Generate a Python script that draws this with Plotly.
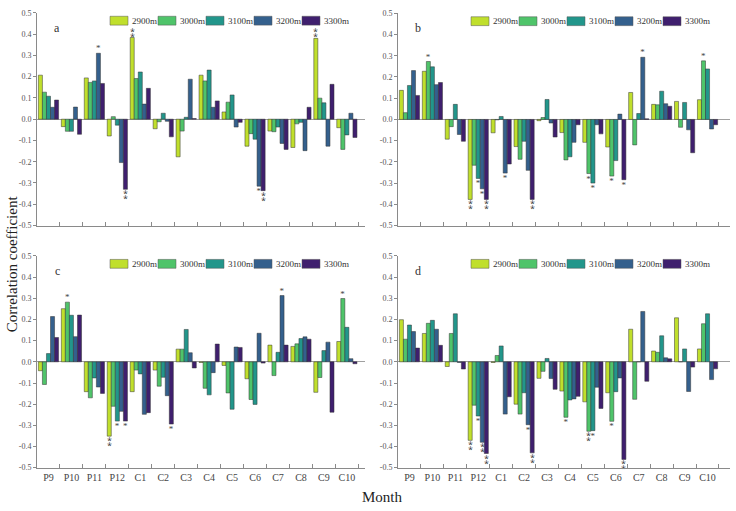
import plotly.graph_objects as go

categories = ["P9", "P10", "P11", "P12", "C1", "C2", "C3", "C4", "C5", "C6", "C7", "C8", "C9", "C10"]
series_names = ["2900m", "3000m", "3100m", "3200m", "3300m"]
colors = ["#c0df2c", "#4fc46a", "#22968b", "#34608d", "#3f1f6e"]
y_tickvals = [0.5, 0.4, 0.3, 0.2, 0.1, 0.0, -0.1, -0.2, -0.3, -0.4, -0.5]
y_ticktext = ["0.5", "0.4", "0.3", "0.2", "0.1", "0.0", "-0.1", "-0.2", "-0.3", "-0.4", "-0.5"]

# panel a  (rows: 2900m, 3000m, 3100m, 3200m, 3300m)
panel_a = [
    [0.207, -0.035, 0.194, -0.079, 0.384, -0.045, -0.177, 0.207, 0.034, -0.127, -0.056, -0.133, 0.380, -0.040],
    [0.127, -0.057, 0.173, 0.012, 0.191, -0.012, -0.056, 0.180, 0.080, -0.068, -0.059, -0.022, 0.099, -0.142],
    [0.108, -0.057, 0.180, -0.028, 0.222, 0.028, 0.009, 0.231, 0.114, -0.094, -0.037, -0.015, 0.077, -0.074],
    [0.056, 0.057, 0.310, -0.204, 0.071, -0.010, 0.188, 0.056, -0.037, -0.315, -0.114, -0.148, -0.127, 0.028],
    [0.090, -0.071, 0.168, -0.330, 0.145, -0.083, 0.003, 0.086, -0.015, -0.336, -0.142, 0.056, 0.164, -0.086],
]
panel_b = [
    [0.137, 0.227, -0.093, -0.377, -0.063, -0.128, -0.006, -0.062, -0.108, -0.130, 0.127, 0.071, 0.085, 0.093],
    [0.032, 0.273, -0.034, -0.216, -0.002, -0.188, 0.009, -0.191, -0.255, -0.267, -0.120, 0.069, -0.037, 0.276],
    [0.160, 0.248, 0.071, -0.278, 0.014, -0.103, 0.094, -0.176, -0.300, -0.194, 0.028, 0.133, 0.080, 0.238],
    [0.230, 0.164, -0.071, -0.327, -0.253, -0.240, -0.017, -0.108, -0.025, 0.025, 0.293, 0.074, -0.049, -0.045],
    [0.113, 0.174, -0.103, -0.377, -0.210, -0.377, -0.083, -0.025, -0.068, -0.284, 0.003, 0.062, -0.157, -0.025],
]
panel_c = [
    [-0.042, 0.251, -0.141, -0.351, -0.141, -0.039, 0.060, -0.003, -0.017, -0.080, 0.079, 0.073, -0.144, 0.096],
    [-0.107, 0.282, -0.170, -0.210, -0.039, -0.115, 0.060, -0.125, -0.147, -0.178, -0.065, 0.085, -0.074, 0.299],
    [0.039, 0.220, -0.076, -0.280, -0.057, -0.073, 0.153, -0.156, -0.224, -0.201, 0.045, 0.110, 0.053, 0.163],
    [0.214, 0.119, -0.119, -0.234, -0.248, -0.160, 0.043, -0.051, 0.070, 0.135, 0.313, 0.118, 0.093, 0.015],
    [0.115, 0.221, -0.149, -0.280, -0.240, -0.294, -0.029, 0.084, 0.068, -0.006, 0.079, 0.107, -0.238, -0.009],
]
panel_d = [
    [0.199, 0.134, -0.022, -0.371, -0.003, -0.200, -0.078, -0.138, -0.189, -0.146, 0.154, 0.051, 0.208, 0.061],
    [0.107, 0.182, 0.134, -0.205, 0.030, -0.247, -0.045, -0.262, -0.328, -0.281, -0.177, 0.045, 0.000, 0.180],
    [0.174, 0.196, 0.227, -0.256, 0.075, -0.146, 0.016, -0.180, -0.325, -0.141, 0.000, 0.123, 0.061, 0.227],
    [0.143, 0.154, -0.003, -0.380, -0.247, -0.297, -0.079, -0.175, -0.120, -0.076, 0.238, 0.019, -0.140, -0.084],
    [0.065, 0.078, -0.034, -0.433, -0.165, -0.430, -0.130, -0.163, -0.220, -0.461, -0.092, 0.014, -0.025, -0.033],
]

# significance marks: (month, series, mark)
stars_a = [("P11", "3200m", "*"), ("P12", "3300m", "**"), ("C1", "2900m", "**"),
           ("C6", "3200m", "*"), ("C6", "3300m", "**"), ("C9", "2900m", "**")]
stars_b = [("P10", "3000m", "*"), ("P12", "2900m", "**"), ("P12", "3100m", "*"), ("P12", "3200m", "*"),
           ("P12", "3300m", "**"), ("C1", "3200m", "*"), ("C2", "3300m", "**"), ("C5", "3000m", "*"),
           ("C5", "3100m", "*"), ("C6", "3000m", "*"), ("C6", "3300m", "*"), ("C7", "3200m", "*"),
           ("C10", "3000m", "*")]
stars_c = [("P10", "3000m", "*"), ("P12", "2900m", "**"), ("P12", "3100m", "*"), ("P12", "3300m", "*"),
           ("C2", "3300m", "*"), ("C7", "3200m", "*"), ("C10", "3000m", "*")]
stars_d = [("P12", "2900m", "**"), ("P12", "3100m", "*"), ("P12", "3200m", "**"), ("P12", "3300m", "**"),
           ("C2", "3200m", "*"), ("C2", "3300m", "**"), ("C4", "3000m", "*"), ("C5", "3000m", "**"),
           ("C5", "3100m", "*"), ("C6", "3000m", "*"), ("C6", "3300m", "**")]

panel_labels = ["a", "b", "c", "d"]

W, H = 736, 511
FONT = "Liberation Serif"


def fx(p):
    return p / W


def fy(p):
    return 1 - p / H


# pixel boxes (left, right, top, bottom) and x-range end for each panel
boxes = [(37, 365, 9, 225.5), (398, 730, 9.5, 225.5), (37, 365, 256.5, 472), (398, 730, 256.5, 472)]
xr_end = [13.79, 13.98, 13.79, 13.98]
panels = [panel_a, panel_b, panel_c, panel_d]
stars = [stars_a, stars_b, stars_c, stars_d]

fig = go.Figure()
shapes = []
annotations = []

for k in range(4):
    sfx = "" if k == 0 else str(k + 1)
    marks = {(m, s): t for (m, s, t) in stars[k]}
    for i, name in enumerate(series_names):
        txt = []
        for c in categories:
            t = marks.get((c, name), "")
            txt.append("\u2051" if t == "**" else t)
        fig.add_trace(go.Bar(
            x=categories, y=panels[k][i], name=name,
            marker=dict(color=colors[i], line=dict(color="#333333", width=0.5)),
            text=txt, textposition="outside", textangle=0, constraintext="none",
            textfont=dict(family=FONT, size=9, color="#444444"),
            cliponaxis=False, showlegend=False,
            xaxis="x" + sfx, yaxis="y" + sfx,
        ))
    L, R, T, B = boxes[k]
    bottom_row = k >= 2
    fig.update_layout(**{
        "xaxis" + sfx: dict(
            domain=[fx(L), fx(R)], anchor="y" + sfx, type="category",
            range=[-0.5, xr_end[k]], showline=True, linecolor="#8a8a8a", linewidth=1,
            ticks="inside", tickson="boundaries", ticklen=4, tickcolor="#8a8a8a",
            showticklabels=bottom_row, tickangle=0,
            tickfont=dict(family=FONT, size=10, color="#444444"),
            showgrid=False, zeroline=False,
        ),
        "yaxis" + sfx: dict(
            domain=[fy(B), fy(T)], anchor="x" + sfx, range=[-0.5, 0.5],
            tickvals=y_tickvals, ticktext=y_ticktext,
            showline=True, linecolor="#8a8a8a", linewidth=1,
            ticks="outside", ticklen=3, tickcolor="#8a8a8a",
            tickfont=dict(family=FONT, size=8, color="#555555"),
            showgrid=False, zeroline=True, zerolinecolor="#a0a0a0", zerolinewidth=1,
        ),
    })
    # panel label
    annotations.append(dict(text=panel_labels[k], x=fx(L + 20), y=fy(T + 15), xref="paper", yref="paper",
                            showarrow=False, font=dict(family=FONT, size=12, color="#333333"),
                            xanchor="center", yanchor="middle"))
    # legend inside panel
    for i, name in enumerate(series_names):
        x0 = L + 73 + 48 * i
        yc = T + 8
        shapes.append(dict(type="rect", xref="paper", yref="paper",
                           x0=fx(x0), x1=fx(x0 + 18), y0=fy(yc + 4.5), y1=fy(yc - 4.5),
                           fillcolor=colors[i], line=dict(color="#555555", width=0.5)))
        annotations.append(dict(text=name, x=fx(x0 + 19.5), y=fy(yc), xref="paper", yref="paper",
                                showarrow=False, xanchor="left", yanchor="middle",
                                font=dict(family=FONT, size=9, color="#333333")))

annotations.append(dict(text="Correlation coefficient", x=fx(12), y=fy(265), xref="paper", yref="paper",
                        showarrow=False, textangle=-90, xanchor="center", yanchor="middle",
                        font=dict(family=FONT, size=15, color="#222222")))
annotations.append(dict(text="Month", x=fx(382), y=fy(502), xref="paper", yref="paper",
                        showarrow=False, xanchor="center", yanchor="middle",
                        font=dict(family=FONT, size=15, color="#222222")))

fig.update_layout(
    width=W, height=H, margin=dict(l=0, r=0, t=0, b=0),
    paper_bgcolor="white", plot_bgcolor="white",
    barmode="group", bargap=0.12, bargroupgap=0.0,
    font=dict(family=FONT),
    shapes=shapes, annotations=annotations, showlegend=False,
)

fig.write_html("out.html")
